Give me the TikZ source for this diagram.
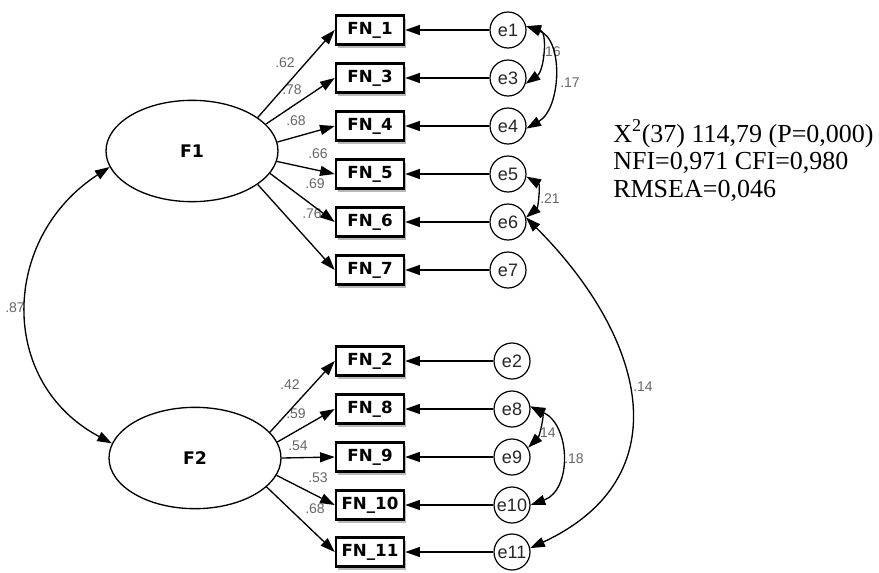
\documentclass[tikz,border=0pt]{standalone}
\usepackage{fontspec}
\setmainfont{Liberation Serif}
\newfontfamily\boxfont{DejaVu Sans}
\newfontfamily\lblfont{Liberation Sans}
\usetikzlibrary{arrows.meta,shapes.geometric,shadows}
\begin{document}
\begin{tikzpicture}[x=0.75pt,y=0.75pt,
  obs/.style={draw, line width=1.9pt, fill=white, minimum width=51pt, minimum height=22pt, inner sep=0pt,
    font=\boxfont\bfseries\fontsize{12.5}{14}\selectfont,
    general shadow={fill=gray!55, shadow xshift=1.2pt, shadow yshift=-2.4pt}},
  err/.style={circle, draw, line width=0.9pt, fill=white, minimum size=27pt, inner sep=0pt,
    font=\lblfont\fontsize{13.5}{15}\selectfont, text=black!85},
  lat/.style={ellipse, draw, line width=1pt, fill=white, minimum width=129pt, minimum height=76pt, inner sep=0pt,
    font=\boxfont\bfseries\fontsize{13}{15}\selectfont},
  tipA/.tip={Triangle[length=11pt,width=7.5pt]},
  arr/.style={line width=1pt, -tipA},
  cov/.style={line width=1pt, tipA-tipA},
  wt/.style={font=\lblfont\fontsize{10.5}{12}\selectfont, text=black!60, inner sep=0pt},
  stat/.style={anchor=base west, inner sep=0pt, font=\fontsize{19.5}{22}\selectfont},
]
\useasboundingbox (0,0) rectangle (879,-572);

% latent factors
\node[lat] (F1) at (192,-151) {F1};
\node[lat] (F2) at (195,-458) {F2};

% observed boxes
\node[obs] (fn1)  at (370,-30)  {FN\_1};
\node[obs] (fn3)  at (370,-78)  {FN\_3};
\node[obs] (fn4)  at (370,-126) {FN\_4};
\node[obs] (fn5)  at (370,-174) {FN\_5};
\node[obs] (fn6)  at (370,-222) {FN\_6};
\node[obs] (fn7)  at (370,-270) {FN\_7};
\node[obs] (fn2)  at (370,-361) {FN\_2};
\node[obs] (fn8)  at (370,-409) {FN\_8};
\node[obs] (fn9)  at (370,-457) {FN\_9};
\node[obs] (fn10) at (370,-505) {FN\_10};
\node[obs] (fn11) at (370,-552) {FN\_11};

% error terms
\node[err] (e1)  at (508,-30)  {e1};
\node[err] (e3)  at (508,-78)  {e3};
\node[err] (e4)  at (508,-126) {e4};
\node[err] (e5)  at (508,-174) {e5};
\node[err] (e6)  at (508,-222) {e6};
\node[err] (e7)  at (508,-270) {e7};
\node[err] (e2)  at (512,-361) {e2};
\node[err] (e8)  at (512,-409) {e8};
\node[err] (e9)  at (512,-457) {e9};
\node[err] (e10) at (512,-505) {e10};
\node[err] (e11) at (512,-552) {e11};

% loading labels
\node[wt] (l1)  at (285,-63)  {.62};
\node[wt] (l3)  at (292,-90)  {.78};
\node[wt] (l4)  at (296,-121) {.68};
\node[wt] (l5)  at (318,-154) {.66};
\node[wt] (l6)  at (315,-184) {.69};
\node[wt] (l7)  at (312,-214) {.76};
\node[wt] (l2)  at (290,-385) {.42};
\node[wt] (l8)  at (296,-414) {.59};
\node[wt] (l9)  at (298,-446) {.54};
\node[wt] (l10) at (318,-478) {.53};
\node[wt] (l11) at (315,-509) {.68};

% covariance labels
\node[wt] (c87) at (15,-308)  {.87};
\node[wt] (c16) at (551,-52)  {.16};
\node[wt] (c17) at (570,-83)  {.17};
\node[wt] (c21) at (550,-199) {.21};
\node[wt] (c14) at (643,-387) {.14};
\node[wt] (c89) at (546,-433) {.14};
\node[wt] (c18) at (574,-459) {.18};

% loadings
\draw[arr] (F1.27)  -- (fn1.west);
\draw[arr] (F1.20)  -- (fn3.west);
\draw[arr] (F1.6)   -- (fn4.west);
\draw[arr] (F1.-7)  -- (fn5.west);
\draw[arr] (F1.-16) -- (fn6.west);
\draw[arr] (F1.-27) -- (fn7.west);
\draw[arr] (F2.19)  -- (fn2.west);
\draw[arr] (F2.11)  -- (fn8.west);
\draw[arr] (F2.0)   -- (fn9.west);
\draw[arr] (F2.-12) -- (fn10.west);
\draw[arr] (F2.-22) -- (fn11.west);

% error paths
\foreach \e/\b in {e1/fn1,e3/fn3,e4/fn4,e5/fn5,e6/fn6,e7/fn7,e2/fn2,e8/fn8,e9/fn9,e10/fn10,e11/fn11}
  \draw[arr] (\e) -- (\b);

% covariances
\draw[cov] (F1.191) to[out=213,in=152,looseness=1.2] (F2.170);
\draw[cov] (e1.12) to[out=-15,in=35] (e3.-18);
\draw[cov] (e1.12) to[out=-20,in=30] (e4.-8);
\draw[cov] (e5.-8) to[out=-30,in=40] (e6.14);
\draw[cov] (e6.14) to[out=-45,in=25,looseness=1.3] (e11.12);
\draw[cov] (e8.8) to[out=-30,in=45] (e9.30);
\draw[cov] (e8.8) to[out=-25,in=20,looseness=1.15] (e10.0);

% fit statistics
\node[stat] (s1) at (613,-142) {X\textsuperscript{2}(37) 114,79 (P=0,000)};
\node[stat] (s2) at (613,-169) {NFI=0,971 CFI=0,980};
\node[stat] (s3) at (613,-197) {RMSEA=0,046};
\end{tikzpicture}
\end{document}
